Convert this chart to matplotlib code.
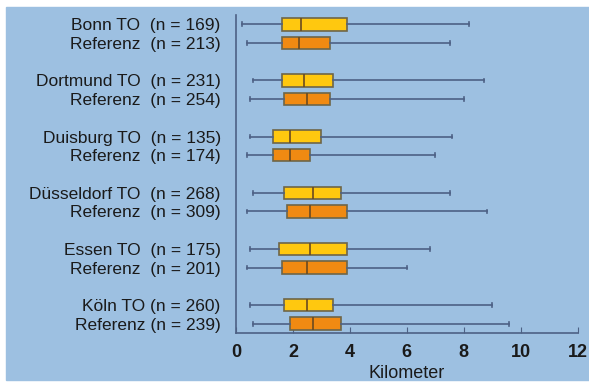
import matplotlib.pyplot as plt
from matplotlib.patches import Rectangle

plt.rcParams['font.family'] = ['Liberation Sans', 'DejaVu Sans']

cities = ["Bonn", "Dortmund", "Duisburg", "Düsseldorf", "Essen", "Köln"]
n_to = [169, 231, 135, 268, 175, 260]
n_ref = [213, 254, 174, 309, 201, 239]
gaps = ["  ", "  ", "  ", "  ", "  ", " "]

# whisker low, q1, median, q3, whisker high (km)
to_stats = [
    [0.2, 1.6, 2.3, 3.9, 8.2],
    [0.6, 1.6, 2.4, 3.4, 8.7],
    [0.5, 1.3, 1.9, 3.0, 7.6],
    [0.6, 1.7, 2.7, 3.7, 7.5],
    [0.5, 1.5, 2.6, 3.9, 6.8],
    [0.5, 1.7, 2.5, 3.4, 9.0],
]
ref_stats = [
    [0.4, 1.6, 2.2, 3.3, 7.5],
    [0.5, 1.7, 2.5, 3.3, 8.0],
    [0.4, 1.3, 1.9, 2.6, 7.0],
    [0.4, 1.8, 2.6, 3.9, 8.8],
    [0.4, 1.6, 2.5, 3.9, 6.0],
    [0.6, 1.9, 2.7, 3.7, 9.6],
]

bg = "#9dc0e1"
line_col = "#4d6185"
edge_col = "#6e6548"

fig = plt.figure(figsize=(5.89, 3.83), dpi=100)
fig.patches.append(Rectangle((6 / 589, 3 / 383), 1, 1 - 10 / 383,
                             transform=fig.transFigure, color=bg, zorder=-10))
ax = fig.add_axes([0.4007, 0.1305, 0.58, 0.8303])
ax.set_facecolor("none")


def make(s):
    return dict(whislo=s[0], q1=s[1], med=s[2], q3=s[3], whishi=s[4], fliers=[])


positions, labels = [], []
for i, c in enumerate(cities):
    positions += [3 * i, 3 * i + 1]
    labels += [f"{c} TO{gaps[i]}(n = {n_to[i]})", f"Referenz{gaps[i]}(n = {n_ref[i]})"]

for stats, offs, col in [(to_stats, 0, "#ffc80f"), (ref_stats, 1, "#f08a12")]:
    ax.bxp([make(s) for s in stats], positions=[3 * i + offs for i in range(len(cities))],
           vert=False, widths=0.66, patch_artist=True, showfliers=False,
           boxprops=dict(facecolor=col, edgecolor=edge_col, linewidth=1.2),
           medianprops=dict(color="#6a4a20", linewidth=1.2),
           whiskerprops=dict(color=line_col, linewidth=1.2),
           capprops=dict(color=line_col, linewidth=1.2), capwidths=0.2)

ax.set_ylim(16.5, -0.5)
ax.set_xlim(0, 12)
ax.set_yticks(positions)
ax.set_yticklabels(labels, fontsize=12.5, color="#1a1a1a")
ax.tick_params(axis="y", length=0, pad=11)
ax.set_xticks(range(0, 13, 2))
ax.set_xticklabels([str(v) for v in range(0, 13, 2)], fontsize=13, fontweight="bold", color="#1a1a1a")
ax.tick_params(axis="x", direction="in", length=4, color=line_col, pad=8)
ax.set_xlabel("Kilometer", fontsize=13, color="#1a1a1a", labelpad=3)
for side in ["top", "right"]:
    ax.spines[side].set_visible(False)
for side in ["left", "bottom"]:
    ax.spines[side].set_color(line_col)
    ax.spines[side].set_linewidth(1.2)

fig.savefig("out.png", dpi=100, facecolor="white")
